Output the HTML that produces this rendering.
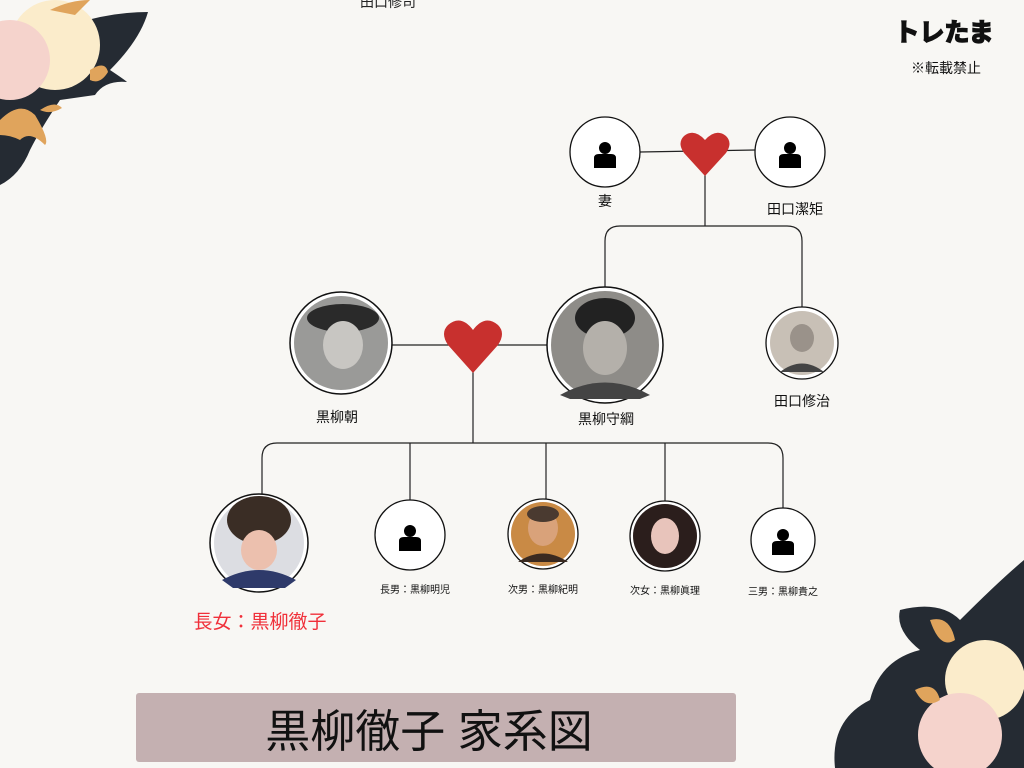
<!DOCTYPE html>
<html><head><meta charset="utf-8"><style>
html,body{margin:0;padding:0;background:#f8f7f4;}
svg{display:block}
text{font-family:"Liberation Sans","Noto Sans CJK JP",sans-serif;}
</style></head><body>
<svg width="1024" height="768" viewBox="0 0 1024 768">
<rect width="1024" height="768" fill="#f8f7f4"/>
<!-- top-left decoration -->
<path d="M70,25 Q110,12 148,12 Q140,40 110,70 Q125,80 127,82 Q105,80 95,95 L60,100 Q40,130 30,150 Q20,175 0,185 L0,95 Q30,100 40,60 Z" fill="#252b33"/>
<circle cx="55" cy="45" r="45" fill="#fbeccb"/>
<circle cx="10" cy="60" r="40" fill="#f5d3cc"/>
<path d="M0,120 Q20,100 35,115 Q50,140 45,145 Q30,130 20,140 Q10,135 0,135 Z" fill="#e0a45c"/>
<path d="M40,110 Q55,100 62,108 Q50,115 40,110 Z" fill="#e0a45c"/>
<path d="M90,70 Q105,60 108,72 Q100,85 90,80Z" fill="#e0a45c"/>
<path d="M50,10 Q70,0 90,0 L75,15Z" fill="#e0a45c"/>
<!-- bottom-right decoration -->
<path d="M900,610 Q940,600 960,620 Q1000,580 1024,560 L1024,768 L835,768 Q830,720 870,700 Q880,660 920,650 Q895,630 900,610 Z" fill="#252b33"/>
<circle cx="985" cy="680" r="40" fill="#fbeccb"/>
<circle cx="960" cy="735" r="42" fill="#f5d3cc"/>
<path d="M930,620 Q950,615 955,640 Q940,650 930,620Z" fill="#e0a45c"/>
<path d="M915,690 Q935,680 940,700 Q925,710 915,690Z" fill="#e0a45c"/>
<!-- top text -->
<text x="388" y="7" font-size="14" text-anchor="middle" fill="#222">田口修司</text>
<text x="944" y="41" font-size="25" font-weight="bold" text-anchor="middle" fill="#111" stroke="#111" stroke-width="1.5">トレたま</text>
<text x="946" y="73" font-size="14" text-anchor="middle" fill="#111">※転載禁止</text>
<!-- lines -->
<g stroke="#222" stroke-width="1.2" fill="none">
<line x1="640" y1="152" x2="755" y2="150"/>
<line x1="705" y1="165" x2="705" y2="226"/>
<path d="M605,290 L605,241 Q605,226 620,226 L787,226 Q802,226 802,241 L802,310"/>
<line x1="391" y1="345" x2="550" y2="345"/>
<line x1="473" y1="360" x2="473" y2="443"/>
<path d="M262,495 L262,458 Q262,443 277,443 L768,443 Q783,443 783,458 L783,508"/>
<line x1="410" y1="443" x2="410" y2="513"/>
<line x1="546" y1="443" x2="546" y2="500"/>
<line x1="665" y1="443" x2="665" y2="503"/>
</g>
<!-- hearts -->
<path d="M705,176 L684,153 Q677,143 684,136 Q694,128 705,140 Q716,128 726,136 Q733,143 726,153 Z" fill="#c8302e"/>
<path d="M473,373 L448,345 Q440,333 448,325 Q461,314 473,330 Q485,314 498,325 Q506,333 498,345 Z" fill="#c8302e"/>
<defs>
<g id="p"><circle cx="0" cy="-8" r="6" fill="#000"/><path d="M-11,12 L-11,2 Q-11,-2 -6,-2 L6,-2 Q11,-2 11,2 L11,12 Z" fill="#000"/></g>
</defs>
<g stroke="#111" stroke-width="1.3" fill="#fff">
<circle cx="605" cy="152" r="35"/>
<circle cx="790" cy="152" r="35"/>
<circle cx="410" cy="535" r="35"/>
<circle cx="783" cy="540" r="32"/>
</g>
<use href="#p" x="605" y="156"/>
<use href="#p" x="790" y="156"/>
<use href="#p" x="410" y="539"/>
<use href="#p" x="783" y="543"/>
<!-- photos -->
<circle cx="341" cy="343" r="51" fill="#fff" stroke="#111" stroke-width="1.5"/>
<circle cx="341" cy="343" r="47" fill="#9a9a98"/>
<ellipse cx="343" cy="318" rx="36" ry="14" fill="#2a2a2a"/>
<ellipse cx="343" cy="345" rx="20" ry="24" fill="#c8c6c2"/>
<circle cx="605" cy="345" r="58" fill="#fff" stroke="#111" stroke-width="1.5"/>
<circle cx="605" cy="345" r="54" fill="#8e8c88"/>
<ellipse cx="605" cy="318" rx="30" ry="20" fill="#222"/>
<ellipse cx="605" cy="348" rx="22" ry="27" fill="#b4b0aa"/>
<path d="M560,395 Q605,370 650,395 L640,399 L570,399Z" fill="#444"/>
<circle cx="802" cy="343" r="36" fill="#fff" stroke="#111" stroke-width="1.3"/>
<circle cx="802" cy="343" r="32" fill="#c8c0b6"/>
<ellipse cx="802" cy="338" rx="12" ry="14" fill="#9a928a"/>
<path d="M780,372 Q802,355 824,372Z" fill="#444"/>
<circle cx="259" cy="543" r="49" fill="#fff" stroke="#111" stroke-width="1.5"/>
<circle cx="259" cy="543" r="45" fill="#dcdde2"/>
<ellipse cx="259" cy="520" rx="32" ry="24" fill="#3a2d25"/>
<ellipse cx="259" cy="550" rx="18" ry="20" fill="#ecc0ae"/>
<path d="M222,580 Q259,560 296,580 L285,588 L233,588Z" fill="#2e3a6a"/>
<circle cx="543" cy="534" r="35" fill="#fff" stroke="#111" stroke-width="1.3"/>
<circle cx="543" cy="534" r="32" fill="#c98a45"/>
<ellipse cx="543" cy="528" rx="15" ry="18" fill="#d9a27a"/>
<ellipse cx="543" cy="514" rx="16" ry="8" fill="#4a3a30"/>
<path d="M518,562 Q543,545 568,562Z" fill="#3a2a20"/>
<circle cx="665" cy="536" r="35" fill="#fff" stroke="#111" stroke-width="1.3"/>
<circle cx="665" cy="536" r="32" fill="#2b1e1c"/>
<ellipse cx="665" cy="536" rx="14" ry="18" fill="#e8c4bb"/>
<!-- labels -->
<g font-size="14" fill="#111" text-anchor="middle">
<text x="605" y="206">妻</text>
<text x="795" y="214">田口潔矩</text>
<text x="337" y="422">黒柳朝</text>
<text x="606" y="424">黒柳守綱</text>
<text x="802" y="406">田口修治</text>
</g>
<g font-size="10" fill="#111" text-anchor="middle">
<text x="415" y="593">長男：黒柳明児</text>
<text x="543" y="593">次男：黒柳紀明</text>
<text x="665" y="594">次女：黒柳眞理</text>
<text x="783" y="595">三男：黒柳貴之</text>
</g>
<text x="260" y="628" font-size="19" fill="#f0303a" text-anchor="middle">長女：黒柳徹子</text>
<!-- title -->
<rect x="136" y="693" width="600" height="69" rx="3" fill="#c4b0b1"/>
<text x="429" y="747" font-size="45" fill="#111" text-anchor="middle">黒柳徹子 家系図</text>
</svg>
</body></html>
